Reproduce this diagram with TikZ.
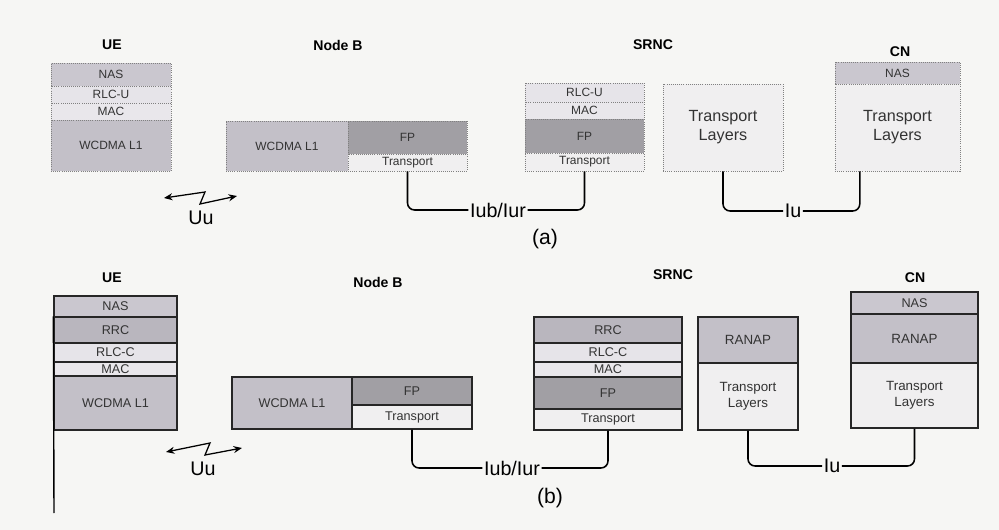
\documentclass[tikz,border=0pt]{standalone}
\usepackage{fontspec}
\setmainfont{Liberation Sans}
\usetikzlibrary{arrows.meta,fit,calc}
\definecolor{bgcol}{HTML}{F6F6F4}
\definecolor{nasC}{HTML}{CAC7CF}
\definecolor{rrcC}{HTML}{B9B6BE}
\definecolor{rlcC}{HTML}{E6E4E9}
\definecolor{macC}{HTML}{E9E7EB}
\definecolor{phyC}{HTML}{C3C0C8}
\definecolor{fpC}{HTML}{A19FA4}
\definecolor{trC}{HTML}{F0EFF0}
\definecolor{ranapC}{HTML}{C3C0C8}
\tikzset{
  laytxt/.style = {inner sep=0pt, align=center, text=black!80, font=\fontsize{8.5}{10}\selectfont},
  lay/.style = {draw=black!50, densely dotted, line width=0.5pt, inner sep=0pt, label={[laytxt]center:#1}},
  layb/.style = {draw=black!85, line width=0.9pt, inner sep=0pt, label={[laytxt, font=\fontsize{9}{10}\selectfont]center:#1}},
  big/.style = {label={[laytxt, font=\fontsize{11.5}{13.5}\selectfont]center:#1}},
  mid/.style = {label={[laytxt, font=\fontsize{9.5}{11.5}\selectfont]center:#1}},
  ttl/.style = {font=\bfseries\fontsize{10}{12}\selectfont},
  link/.style = {line width=1.1pt, rounded corners=5pt},
  zig/.style = {line width=0.9pt, {Stealth[length=6pt,width=5pt]}-{Stealth[length=6pt,width=5pt]}},
  iflab/.style = {font=\fontsize{14}{16}\selectfont, inner sep=1pt},
}

\begin{document}
\begin{tikzpicture}[x=0.025cm, y=-0.025cm]
  \fill[bgcol] (0,0) rectangle (999,530);

  % (a) user plane
  \node[ttl] (uea) at (112,45) {UE};
  \node[ttl] (nba) at (338,45) {Node B};
  \node[ttl] (sra) at (653,45) {SRNC};
  \node[ttl] (cna) at (900,52) {CN};

  \foreach \n/\lab/\c/\ya/\yb in {ueNASa/NAS/nasC/63/86, ueRLCa/RLC-U/rlcC/86/103, ueMACa/MAC/macC/103/120, uePHYa/WCDMA L1/phyC/120/171}{
    \node[lay=\lab, fill=\c, fit={(51,\ya) (171,\yb)}] (\n) {};
  }
  \node[lay=WCDMA L1, fill=phyC, fit={(226,121) (348,171)}] (nbPHYa) {};
  \node[lay=FP, fill=fpC, fit={(348,121) (467,154)}] (nbFPa) {};
  \node[lay=Transport, fill=trC, fit={(348,154) (467,171)}] (nbTRa) {};

  \foreach \n/\lab/\c/\ya/\yb in {srRLCa/RLC-U/rlcC/83/102, srMACa/MAC/macC/102/119, srFPa/FP/fpC/119/153, srTRa/Transport/trC/153/171}{
    \node[lay=\lab, fill=\c, fit={(525,\ya) (644,\yb)}] (\n) {};
  }
  \node[lay=, big={Transport\\Layers}, fill=trC, fit={(663,84) (783,171)}] (tlTLa) {};
  \node[lay=NAS, fill=nasC, fit={(835,62) (960,84)}] (cnNASa) {};
  \node[lay=, big={Transport\\Layers}, fill=trC, fit={(835,84) (960,171)}] (cnTLa) {};

  \node[iflab] (iuba) at (498,210) {Iub/Iur};
  \draw[link] (nbTRa.south) |- (iuba.west);
  \draw[link] (srTRa.south) |- (iuba.east);
  \node[iflab] (iua) at (793,211) {Iu};
  \draw[link] (tlTLa.south) |- (iua.west);
  \draw[link] ($(cnTLa.south west)!0.2!(cnTLa.south east)$) |- (iua.east);

  \draw[zig] (164,198) -- (205,192) -- (200,204) -- (237,196);
  \node[iflab] (uua) at (201,218) {Uu};
  \node[font=\fontsize{15}{17}\selectfont] (capa) at (545,239) {(a)};

  % (b) control plane
  \node[ttl] (ueb) at (112,278) {UE};
  \node[ttl] (nbb) at (378,282) {Node B};
  \node[ttl] (srb) at (673,275) {SRNC};
  \node[ttl] (cnb) at (915,278) {CN};

  \foreach \n/\lab/\c/\ya/\yb in {ueNASb/NAS/nasC/296/317, ueRRCb/RRC/rrcC/317/343, ueRLCb/RLC-C/rlcC/343/362, ueMACb/MAC/macC/362/376, uePHYb/WCDMA L1/phyC/376/430}{
    \node[layb=\lab, fill=\c, fit={(54,\ya) (177,\yb)}] (\n) {};
  }
  \coordinate (uebase) at (54,513);
  \draw[line width=1pt] (ueRRCb.north west) -- (uebase);

  \node[layb=WCDMA L1, fill=phyC, fit={(232,377) (352,429)}] (nbPHYb) {};
  \node[layb=FP, fill=fpC, fit={(352,377) (472,405)}] (nbFPb) {};
  \node[layb=Transport, fill=trC, fit={(352,405) (472,429)}] (nbTRb) {};

  \foreach \n/\lab/\c/\ya/\yb in {srRRCb/RRC/rrcC/317/343, srRLCb/RLC-C/rlcC/343/362, srMACb/MAC/macC/362/377, srFPb/FP/fpC/377/409, srTRb/Transport/trC/409/430}{
    \node[layb=\lab, fill=\c, fit={(534,\ya) (682,\yb)}] (\n) {};
  }
  \node[layb=, mid=RANAP, fill=ranapC, fit={(698,317) (798,363)}] (rnRANb) {};
  \node[layb=, mid={Transport\\Layers}, fill=trC, fit={(698,363) (798,430)}] (rnTLb) {};

  \node[layb=NAS, fill=nasC, fit={(851,292) (978,314)}] (cnNASb) {};
  \node[layb=, mid=RANAP, fill=ranapC, fit={(851,314) (978,363)}] (cnRANb) {};
  \node[layb=, mid={Transport\\Layers}, fill=trC, fit={(851,363) (978,428)}] (cnTLb) {};

  \node[iflab] (iubb) at (512,468) {Iub/Iur};
  \draw[link] (nbTRb.south) |- (iubb.west);
  \draw[link] (srTRb.south) |- (iubb.east);
  \node[iflab] (iub) at (832,466) {Iu};
  \draw[link] (rnTLb.south) |- (iub.west);
  \draw[link] (cnTLb.south) |- (iub.east);

  \draw[zig] (166,452) -- (210,443) -- (205,455) -- (242,448);
  \node[iflab] (uub) at (203,469) {Uu};
  \node[font=\fontsize{15}{17}\selectfont] (capb) at (550,498) {(b)};
\end{tikzpicture}
\end{document}
